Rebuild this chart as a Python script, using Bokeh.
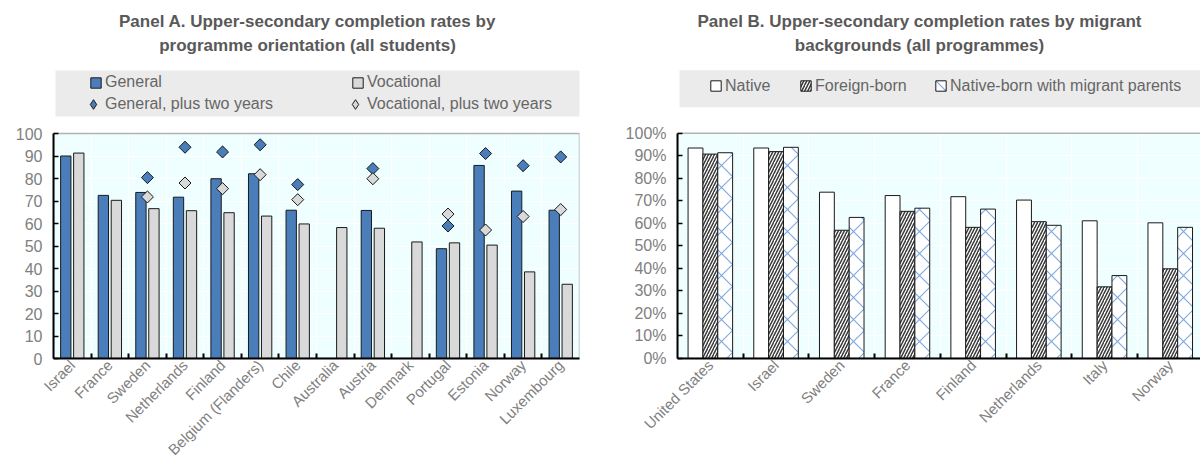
import numpy as np
from bokeh.plotting import figure
from bokeh.layouts import row
from bokeh.models import (ColumnDataSource, FixedTicker, Legend, LegendItem, Label,
                          BoxAnnotation, PrintfTickFormatter, Range1d)
from bokeh.embed import file_html
from bokeh.resources import INLINE

# ---------------- Panel A: completion by programme orientation ----------------
countries_a = ["Israel", "France", "Sweden", "Netherlands", "Finland",
               "Belgium (Flanders)", "Chile", "Australia", "Austria", "Denmark",
               "Portugal", "Estonia", "Norway", "Luxembourg"]
general = [90.0, 72.5, 73.8, 71.7, 79.9, 82.1, 65.9, None, 65.8, None, 48.8, 85.8, 74.4, 65.9]
vocational = [91.3, 70.3, 66.6, 65.7, 64.8, 63.3, 59.8, 58.2, 57.9, 51.8, 51.4, 50.4, 38.5, 33.0]
general_plus2 = [None, None, 80.4, 93.9, 91.8, 95.0, 77.3, None, 84.4, None, 58.9, 91.1, 85.7, 89.6]
vocational_plus2 = [None, None, 71.8, 78.0, 75.5, 81.7, 70.6, None, 79.9, None, 64.2, 57.1, 63.1, 66.2]

# ---------------- Panel B: completion by migrant background ----------------
countries_b = ["United States", "Israel", "Sweden", "France", "Finland",
               "Netherlands", "Italy", "Norway"]
native = [93.4, 93.4, 73.8, 72.3, 71.8, 70.3, 61.1, 60.2]
foreign_born = [90.7, 91.8, 56.9, 65.3, 58.2, 60.7, 31.8, 39.8]
migrant_parents = [91.3, 93.7, 62.6, 66.7, 66.3, 59.1, 36.8, 58.2]

y_ticks = list(range(0, 101, 10))

FONT = "Liberation Sans"
TICK_COLOR = "#808080"
TITLE_COLOR = "#595959"
LEGEND_COLOR = "#666666"
BLUE = "#4A7EBB"
GREY = "#D9D9D9"
PLOT_BG = "#EFFFFF"
BOX_BG = "#EBEBEB"
EDGE = "#1a1a1a"

FIG_W, FIG_H = 600, 471
PLOT_TOP = 133          # canvas y of the 100 line


def points(values, offset):
    xs = [i + 0.5 + offset for i, v in enumerate(values) if v is not None]
    ys = [v for v in values if v is not None]
    return ColumnDataSource(dict(x=xs, y=ys))


class Panel:
    """A figure whose frame reaches the canvas top, so the header lives inside it."""

    def __init__(self, names, left, cat_px, border_right, border_bottom):
        self.n = len(names)
        self.left = left
        self.bottom = FIG_H - border_bottom
        self.sx = cat_px
        self.sy = (self.bottom - PLOT_TOP) / 100.0
        x_end = (FIG_W - border_right - left) / cat_px
        y_end = 100 + PLOT_TOP / self.sy
        p = figure(width=FIG_W, height=FIG_H, title=None,
                   x_range=Range1d(0, x_end), y_range=Range1d(0, y_end),
                   output_backend="svg", toolbar_location=None, tools="",
                   min_border_left=left, min_border_right=border_right,
                   min_border_top=0, min_border_bottom=border_bottom,
                   background_fill_color="white", border_fill_color="white",
                   outline_line_color=None)
        self.p = p

        # plot area fill
        p.add_layout(BoxAnnotation(left=0, right=self.n, bottom=0, top=100,
                                   fill_color=PLOT_BG, fill_alpha=1, line_color=None,
                                   level="image"))

        centers = [i + 0.5 for i in range(self.n)]
        bounds = [float(i) for i in range(1, self.n)]
        ax = p.xaxis[0]
        ax.ticker = FixedTicker(ticks=centers, minor_ticks=bounds)
        ax.major_label_overrides = {c: name for c, name in zip(centers, names)}
        ax.major_tick_in = 0
        ax.major_tick_out = 0
        ax.minor_tick_in = 5
        ax.minor_tick_out = 0
        ax.minor_tick_line_width = 2
        ax.minor_tick_line_color = "black"
        ax.axis_line_width = 2
        ax.axis_line_color = "black"
        ax.major_label_orientation = np.pi / 4
        ax.major_label_text_font = FONT
        ax.major_label_text_font_size = "15px"
        ax.major_label_text_color = TICK_COLOR
        ax.major_label_standoff = 4

        ay = p.yaxis[0]
        ay.bounds = (0, 100)
        ay.ticker = FixedTicker(ticks=y_ticks)
        ay.major_tick_in = 5
        ay.major_tick_out = 0
        ay.major_tick_line_width = 1.5
        ay.major_tick_line_color = "black"
        ay.minor_tick_in = 0
        ay.minor_tick_out = 0
        ay.axis_line_width = 2
        ay.axis_line_color = "black"
        ay.major_label_text_font = FONT
        ay.major_label_text_font_size = "16px"
        ay.major_label_text_color = TICK_COLOR
        ay.major_label_standoff = 11

        p.xgrid.ticker = FixedTicker(ticks=bounds)
        p.xgrid.cross_bounds = (0, 100)
        p.xgrid.grid_line_color = "white"
        p.xgrid.grid_line_width = 1
        p.ygrid.ticker = FixedTicker(ticks=y_ticks)
        p.ygrid.grid_line_color = "white"
        p.ygrid.grid_line_width = 1.2

    def data_x(self, cx):
        return (cx - self.left) / self.sx

    def data_y(self, cy):
        return (self.bottom - cy) / self.sy

    def frame_border(self):
        self.p.add_layout(BoxAnnotation(left=0, right=self.n, bottom=0, top=100,
                                        fill_alpha=0, line_color="black",
                                        line_width=1.5))

    def title(self, cx, lines):
        for cy, txt in zip((21, 45), lines):
            self.p.add_layout(Label(x=self.data_x(cx), y=self.data_y(cy), text=txt,
                                    text_align="center", text_baseline="middle",
                                    text_font=FONT, text_font_style="bold",
                                    text_font_size="17px", text_color=TITLE_COLOR))

    def legend_box(self, left, right, top, bottom):
        self.p.add_layout(BoxAnnotation(left=self.data_x(left), right=self.data_x(right),
                                        top=self.data_y(top), bottom=self.data_y(bottom),
                                        fill_color=BOX_BG, fill_alpha=1, line_color=None))

    def legend(self, label, renderer, glyph_left, row_center, glyph=13, standoff=3):
        h = max(18, glyph)
        lg = Legend(items=[LegendItem(label=label, renderers=[renderer])],
                    location=(glyph_left - self.left, self.bottom - row_center - h / 2),
                    orientation="vertical",
                    background_fill_alpha=0, border_line_color=None,
                    padding=0, margin=0, spacing=0,
                    glyph_width=glyph, glyph_height=glyph, label_height=18,
                    label_standoff=standoff,
                    label_text_font=FONT, label_text_font_size="16px",
                    label_text_color=LEGEND_COLOR)
        self.p.add_layout(lg, "center")


def plus_two_markers(p, values, color):
    """Diamonds at the country centre. The 'diamond' marker (also used as the
    legend key) sits under a rotated square with the same fill and edge."""
    src = points(values, 0.0)
    key = p.scatter(x="x", y="y", source=src, marker="diamond", size=11,
                    fill_color=color, line_color=EDGE, line_width=1)
    p.scatter(x="x", y="y", source=src, marker="square", angle=np.pi / 4, size=8.5,
              fill_color=color, line_color=EDGE, line_width=1)
    return key


# ---------------- build panel A ----------------
A = Panel(countries_a, left=53, cat_px=526 / 14, border_right=21, border_bottom=113)
pa = A.p
bar_w_a = 0.275
r_gen = pa.vbar(x="x", top="y", width=bar_w_a, source=points(general, -0.173),
                fill_color=BLUE, line_color=EDGE, line_width=1)
r_voc = pa.vbar(x="x", top="y", width=bar_w_a, source=points(vocational, 0.173),
                fill_color=GREY, line_color=EDGE, line_width=1)
r_gen2 = plus_two_markers(pa, general_plus2, BLUE)
r_voc2 = plus_two_markers(pa, vocational_plus2, GREY)

A.frame_border()
A.title(307, ["Panel A. Upper-secondary completion rates by",
              "programme orientation (all students)"])
A.legend_box(55, 580, 70, 116)
A.legend("General", r_gen, 89, 82)
A.legend("General, plus two years", r_gen2, 81, 104, glyph=24, standoff=0)
A.legend("Vocational", r_voc, 351, 82)
A.legend("Vocational, plus two years", r_voc2, 343, 104, glyph=24, standoff=0)

# ---------------- build panel B ----------------
B = Panel(countries_b, left=77, cat_px=65.7, border_right=0, border_bottom=112)
pb = B.p
pb.yaxis[0].formatter = PrintfTickFormatter(format="%d%%")
bar_w_b = 0.226
r_nat = pb.vbar(x="x", top="y", width=bar_w_b, source=points(native, -0.226),
                fill_color="white", line_color=EDGE, line_width=1)
r_fb = pb.vbar(x="x", top="y", width=bar_w_b, source=points(foreign_born, 0.0),
               fill_color="white", line_color=EDGE, line_width=1,
               hatch_pattern="right_diagonal_line", hatch_color="#3a3a3a",
               hatch_scale=6, hatch_weight=1.5)
r_mp = pb.vbar(x="x", top="y", width=bar_w_b, source=points(migrant_parents, 0.226),
               fill_color="white", line_color=EDGE, line_width=1,
               hatch_pattern="diagonal_cross", hatch_color="#7FAADF",
               hatch_scale=22, hatch_weight=1.2)
B.frame_border()
B.title(319, ["Panel B. Upper-secondary completion rates by migrant",
              "backgrounds (all programmes)"])
B.legend_box(79, 640, 70, 107)
B.legend("Native", r_nat, 109, 86.5)
B.legend("Foreign-born", r_fb, 199, 86.5)
B.legend("Native-born with migrant parents", r_mp, 334, 86.5)

layout = row(pa, pb, spacing=0)
open("out.html", "w").write(file_html(layout, INLINE))
